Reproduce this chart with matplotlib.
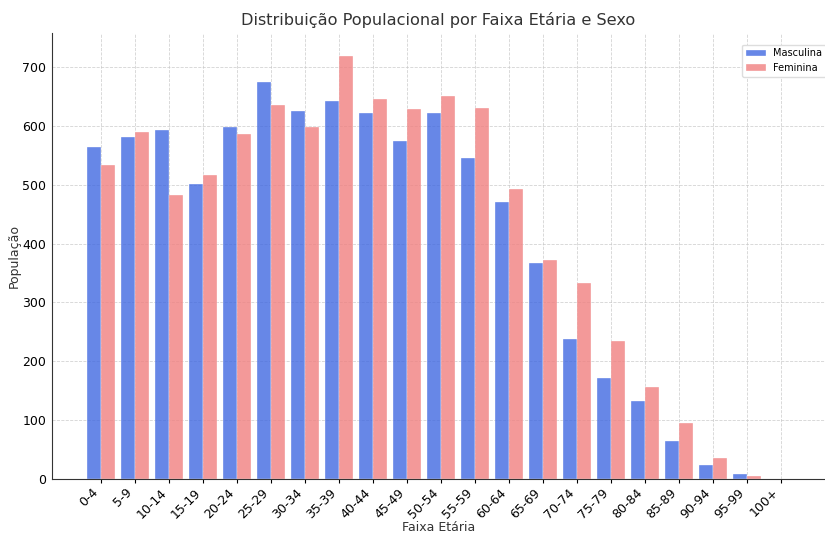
import matplotlib
matplotlib.use("Agg")
import matplotlib.pyplot as plt
import numpy as np

categorias = ["0-4", "5-9", "10-14", "15-19", "20-24", "25-29", "30-34", "35-39",
              "40-44", "45-49", "50-54", "55-59", "60-64", "65-69", "70-74", "75-79",
              "80-84", "85-89", "90-94", "95-99", "100+"]
masculina = [565, 581, 593, 502, 598, 675, 626, 643, 622, 575, 622, 545, 471, 367,
             238, 171, 133, 64, 24, 9, 0]
feminina = [533, 589, 483, 517, 586, 636, 598, 719, 646, 629, 651, 630, 493, 372,
            333, 234, 157, 96, 35, 5, 0]

fig = plt.figure(figsize=(8.25, 5.33), dpi=100)
ax = fig.add_axes([52/825, 1-479/533, (825-52)/825, (479-33)/533])

x = np.arange(len(categorias))
w = 0.4
ax.bar(x - w/2, masculina, w, color="royalblue", alpha=0.8, label="Masculina",
       edgecolor="white", linewidth=0.3)
ax.bar(x + w/2, feminina, w, color="lightcoral", alpha=0.8, label="Feminina",
       edgecolor="white", linewidth=0.3)

ax.set_xticks(x)
ax.set_xticklabels(categorias, rotation=45, ha="right", fontsize=9)
ax.tick_params(axis="y", labelsize=9, length=0, pad=4)
ax.tick_params(axis="x", length=3, pad=2)
ax.set_xlim((52-101)/34, (825-101)/34)
ax.set_ylim(0, 758)
ax.set_yticks(range(0, 701, 100))

ax.grid(True, linestyle="--", linewidth=0.6, color="#c8c8c8", alpha=0.8)
ax.set_axisbelow(True)
for s in ["top", "right"]:
    ax.spines[s].set_visible(False)
ax.spines["left"].set_color("#333333")
ax.spines["bottom"].set_color("#333333")

ax.set_title("Distribuição Populacional por Faixa Etária e Sexo", fontsize=11.6, color="#333333", pad=6)
ax.set_xlabel("Faixa Etária", fontsize=9, color="#333333", labelpad=0)
ax.set_ylabel("População", fontsize=9, color="#333333", labelpad=1)

ax.legend(loc="upper right", fontsize=7, bbox_to_anchor=(1.008, 0.985), framealpha=1,
          edgecolor="#dddddd")

fig.savefig("out.png", dpi=100)
